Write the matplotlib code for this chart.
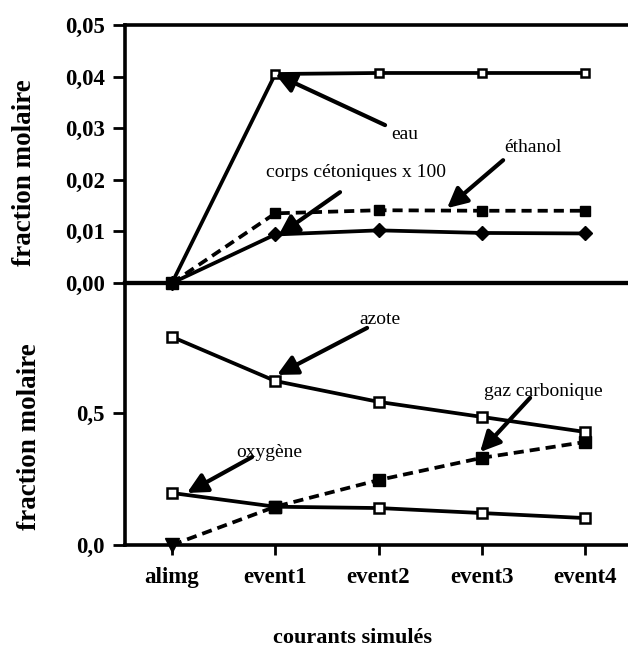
import matplotlib
matplotlib.use('Agg')
import matplotlib.pyplot as plt

categories = ['alimg', 'event1', 'event2', 'event3', 'event4']
eau = [0.0, 0.0405, 0.0407, 0.0407, 0.0407]
ethanol = [0.0, 0.0135, 0.0141, 0.0140, 0.0140]
cetones = [0.0, 0.0094, 0.0102, 0.0097, 0.0096]
azote = [0.788, 0.621, 0.542, 0.485, 0.428]
oxygene = [0.197, 0.145, 0.140, 0.121, 0.102]
gaz = [0.0, 0.145, 0.246, 0.330, 0.390]
top_ticks = [0.0, 0.01, 0.02, 0.03, 0.04, 0.05]
top_ticklabels = ['0,00', '0,01', '0,02', '0,03', '0,04', '0,05']
bot_ticks = [0.0, 0.5]
bot_ticklabels = ['0,0', '0,5']

x = list(range(len(categories)))

TICKFONT = dict(family='Liberation Serif', weight='bold', size=16.5)
ANNFONT = dict(family='Liberation Serif', size=14)
LW = 2.7
SPW = 2.6
DASH = (0, (2.7, 1.6))

fig = plt.figure(figsize=(6.28, 6.51), dpi=100)
ax1 = fig.add_axes([0.199, 0.5653, 0.801, 0.3963])
ax2 = fig.add_axes([0.199, 0.1628, 0.801, 0.4025])

for ax in (ax1, ax2):
    ax.set_xlim(-0.455, 4.415)
    ax.patch.set_visible(False)
    ax.spines['right'].set_visible(False)
    for s in ax.spines.values():
        s.set_linewidth(SPW)
    ax.tick_params(axis='y', direction='out', length=8.5, width=2.0, pad=6)
ax1.spines['bottom'].set_linewidth(3.0)
ax2.spines['top'].set_linewidth(3.0)

# top panel
ax1.set_ylim(0, 0.05)
ax1.set_yticks(top_ticks)
ax1.set_yticklabels(top_ticklabels, fontdict=TICKFONT)
ax1.set_xticks(x)
ax1.tick_params(axis='x', length=0, labelbottom=False)

ax1.plot(x, cetones, color='black', lw=LW, marker='D', ms=7.5, mfc='black', mec='black', clip_on=False, zorder=3)
ax1.plot(x, ethanol, color='black', lw=LW, ls=DASH, marker='s', ms=7, mfc='black', mec='black', clip_on=False, zorder=4)
ax1.plot(x, eau, color='black', lw=LW, marker='s', ms=6, mfc='white', mec='black', mew=1.8, clip_on=False, zorder=5)
ax1.plot([x[0]], [eau[0]], marker='s', ms=9, color='black', ls='none', clip_on=False, zorder=6)

arrow = dict(arrowstyle='-|>', lw=3.0, color='black', mutation_scale=30, shrinkA=0, shrinkB=0)
ax1.annotate('', xy=(1.0, 0.0405), xytext=(2.063, 0.0306), arrowprops=arrow, zorder=7)
ax1.text(2.257, 0.0287, 'eau', ha='center', va='center', **ANNFONT)
ax1.annotate('', xy=(1.03, 0.0092), xytext=(1.627, 0.0176), arrowprops=arrow, zorder=7)
ax1.text(1.782, 0.0215, 'corps cétoniques x 100', ha='center', va='center', **ANNFONT)
ax1.annotate('', xy=(2.663, 0.0145), xytext=(3.206, 0.0238), arrowprops=arrow, zorder=7)
ax1.text(3.496, 0.0262, 'éthanol', ha='center', va='center', **ANNFONT)

# bottom panel
ax2.set_ylim(0, 0.992)
ax2.set_yticks(bot_ticks)
ax2.set_yticklabels(bot_ticklabels, fontdict=TICKFONT)
ax2.set_xticks(x)
ax2.set_xticklabels(categories, fontdict=TICKFONT)
ax2.tick_params(axis='x', direction='out', length=7, width=2.0, pad=9)

ax2.plot(x, gaz, color='black', lw=LW, ls=DASH, clip_on=False, zorder=3)
ax2.plot(x[1:], gaz[1:], color='black', ls='none', marker='s', ms=8, clip_on=False, zorder=4)
ax2.plot(x[:1], gaz[:1], color='black', ls='none', marker='v', ms=10, clip_on=False, zorder=4)
ax2.plot(x, oxygene, color='black', lw=LW, marker='s', ms=6.5, mfc='white', mec='black', mew=1.8, clip_on=False, zorder=5)
ax2.plot(x, azote, color='black', lw=LW, marker='s', ms=6.5, mfc='white', mec='black', mew=1.8, clip_on=False, zorder=5)
ax2.plot([x[1]], [gaz[1]], marker='s', ms=8, color='black', ls='none', clip_on=False, zorder=6)

ax2.annotate('', xy=(1.017, 0.644), xytext=(1.889, 0.822), arrowprops=arrow, zorder=7)
ax2.text(2.015, 0.852, 'azote', ha='center', va='center', **ANNFONT)
ax2.annotate('', xy=(2.983, 0.352), xytext=(3.467, 0.557), arrowprops=arrow, zorder=7)
ax2.text(3.593, 0.580, 'gaz carbonique', ha='center', va='center', **ANNFONT)
ax2.annotate('', xy=(0.145, 0.197), xytext=(0.775, 0.333), arrowprops=arrow, zorder=7)
ax2.text(0.939, 0.352, 'oxygène', ha='center', va='center', **ANNFONT)

LABFONT = dict(family='Liberation Serif', weight='bold', size=19.5)
ax1.set_ylabel('fraction molaire', va='center', **LABFONT)
ax1.yaxis.set_label_coords(-0.199, 0.426)
ax2.set_ylabel('fraction molaire', va='center', **LABFONT)
ax2.yaxis.set_label_coords(-0.189, 0.412)

fig.text(0.561, 0.02, 'courants simulés', ha='center', va='center', family='Liberation Serif', weight='bold', size=16)

fig.savefig('out.png', dpi=100)
